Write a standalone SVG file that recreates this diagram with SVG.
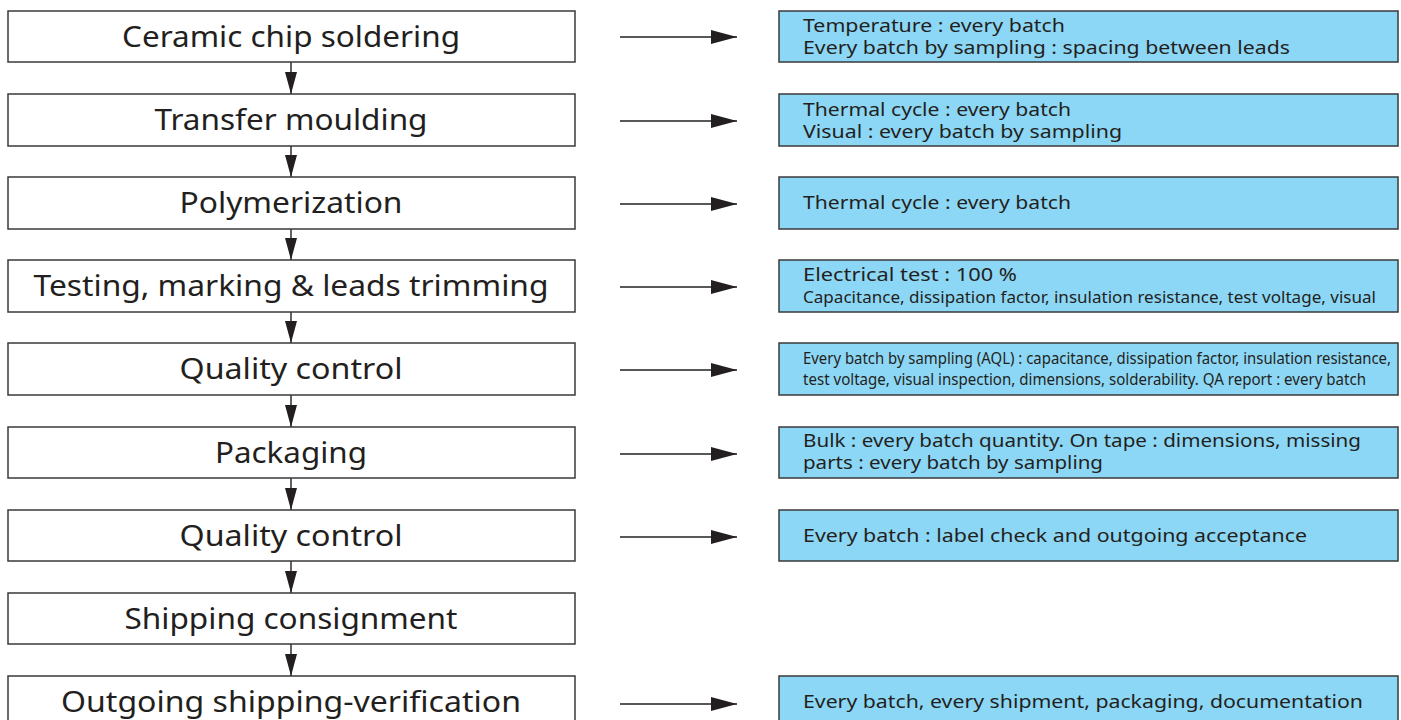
<svg xmlns="http://www.w3.org/2000/svg" width="1401" height="720" viewBox="0 0 1401 720">
<defs>
<style>
.step{fill:#fff;stroke:#3a3a3a;stroke-width:1.5}
.info{fill:#8dd7f6;stroke:#3a3a3a;stroke-width:1.5}
.lt{font-family:"Noto Sans","Open Sans",sans-serif;font-size:29px;fill:#231f20;text-anchor:middle}
.rt{font-family:"Noto Sans","Open Sans",sans-serif;font-size:18px;fill:#231f20}
.rs{font-family:"Noto Sans","Open Sans",sans-serif;font-size:17px;fill:#231f20}
.rc{font-family:"Noto Sans","Open Sans",sans-serif;font-size:14.5px;fill:#231f20}
.ln{stroke:#231f20;stroke-width:1.4;fill:none}
</style>
<marker id="ar" viewBox="0 0 26 14" refX="26" refY="7" markerWidth="26" markerHeight="14" markerUnits="userSpaceOnUse" orient="auto">
<path d="M0,0 L26,7 L0,14 z" fill="#231f20"/>
</marker>
<marker id="av" viewBox="0 0 22 12" refX="22" refY="6" markerWidth="22" markerHeight="12" markerUnits="userSpaceOnUse" orient="auto">
<path d="M0,0 L22,6 L0,12 z" fill="#231f20"/>
</marker>
</defs>
<rect width="1401" height="720" fill="#fff"/>

<g id="connectors">
<line class="ln" x1="291" y1="62" x2="291" y2="94" marker-end="url(#av)"/>
<line class="ln" x1="291" y1="146" x2="291" y2="177" marker-end="url(#av)"/>
<line class="ln" x1="291" y1="229" x2="291" y2="260" marker-end="url(#av)"/>
<line class="ln" x1="291" y1="312" x2="291" y2="343" marker-end="url(#av)"/>
<line class="ln" x1="291" y1="395" x2="291" y2="427" marker-end="url(#av)"/>
<line class="ln" x1="291" y1="478" x2="291" y2="510" marker-end="url(#av)"/>
<line class="ln" x1="291" y1="561" x2="291" y2="593" marker-end="url(#av)"/>
<line class="ln" x1="291" y1="644" x2="291" y2="676" marker-end="url(#av)"/>
<line class="ln" x1="620" y1="37" x2="737" y2="37" marker-end="url(#ar)"/>
<line class="ln" x1="620" y1="121" x2="737" y2="121" marker-end="url(#ar)"/>
<line class="ln" x1="620" y1="204" x2="737" y2="204" marker-end="url(#ar)"/>
<line class="ln" x1="620" y1="287" x2="737" y2="287" marker-end="url(#ar)"/>
<line class="ln" x1="620" y1="370" x2="737" y2="370" marker-end="url(#ar)"/>
<line class="ln" x1="620" y1="454" x2="737" y2="454" marker-end="url(#ar)"/>
<line class="ln" x1="620" y1="537" x2="737" y2="537" marker-end="url(#ar)"/>
<line class="ln" x1="620" y1="704" x2="737" y2="704" marker-end="url(#ar)"/>
</g>

<g id="step1"><rect class="step" x="8" y="11" width="567" height="51"/><text class="lt" x="291" y="47" textLength="338" lengthAdjust="spacingAndGlyphs">Ceramic chip soldering</text></g>
<g id="step2"><rect class="step" x="8" y="94" width="567" height="52"/><text class="lt" x="291" y="130" textLength="273" lengthAdjust="spacingAndGlyphs">Transfer moulding</text></g>
<g id="step3"><rect class="step" x="8" y="177" width="567" height="52"/><text class="lt" x="291" y="213" textLength="223" lengthAdjust="spacingAndGlyphs">Polymerization</text></g>
<g id="step4"><rect class="step" x="8" y="260" width="567" height="52"/><text class="lt" x="291" y="296" textLength="515" lengthAdjust="spacingAndGlyphs">Testing, marking &amp; leads trimming</text></g>
<g id="step5"><rect class="step" x="8" y="343" width="567" height="52"/><text class="lt" x="291" y="379" textLength="223" lengthAdjust="spacingAndGlyphs">Quality control</text></g>
<g id="step6"><rect class="step" x="8" y="427" width="567" height="51"/><text class="lt" x="291" y="463" textLength="152" lengthAdjust="spacingAndGlyphs">Packaging</text></g>
<g id="step7"><rect class="step" x="8" y="510" width="567" height="51"/><text class="lt" x="291" y="546" textLength="223" lengthAdjust="spacingAndGlyphs">Quality control</text></g>
<g id="step8"><rect class="step" x="8" y="593" width="567" height="51"/><text class="lt" x="291" y="629" textLength="333" lengthAdjust="spacingAndGlyphs">Shipping consignment</text></g>
<g id="step9"><rect class="step" x="8" y="676" width="567" height="60"/><text class="lt" x="291" y="712" textLength="460" lengthAdjust="spacingAndGlyphs">Outgoing shipping-verification</text></g>

<g id="info1"><rect class="info" x="779" y="11" width="619" height="51"/>
<text class="rt" x="803" y="32" textLength="262" lengthAdjust="spacingAndGlyphs">Temperature : every batch</text>
<text class="rt" x="803" y="54" textLength="487" lengthAdjust="spacingAndGlyphs">Every batch by sampling : spacing between leads</text></g>
<g id="info2"><rect class="info" x="779" y="94" width="619" height="52"/>
<text class="rt" x="803" y="116" textLength="268" lengthAdjust="spacingAndGlyphs">Thermal cycle : every batch</text>
<text class="rt" x="803" y="138" textLength="319" lengthAdjust="spacingAndGlyphs">Visual : every batch by sampling</text></g>
<g id="info3"><rect class="info" x="779" y="177" width="619" height="52"/>
<text class="rt" x="803" y="209" textLength="268" lengthAdjust="spacingAndGlyphs">Thermal cycle : every batch</text></g>
<g id="info4"><rect class="info" x="779" y="260" width="619" height="52"/>
<text class="rt" x="803" y="281" textLength="214" lengthAdjust="spacingAndGlyphs">Electrical test : 100 %</text>
<text class="rs" x="803" y="303" textLength="573" lengthAdjust="spacingAndGlyphs">Capacitance, dissipation factor, insulation resistance, test voltage, visual</text></g>
<g id="info5"><rect class="info" x="779" y="343" width="619" height="52"/>
<text class="rc" transform="translate(803,364) scale(1,1.18)" textLength="588" lengthAdjust="spacingAndGlyphs">Every batch by sampling (AQL) : capacitance, dissipation factor, insulation resistance,</text>
<text class="rc" transform="translate(803,385) scale(1,1.18)" textLength="563" lengthAdjust="spacingAndGlyphs">test voltage, visual inspection, dimensions, solderability. QA report : every batch</text></g>
<g id="info6"><rect class="info" x="779" y="427" width="619" height="51"/>
<text class="rt" x="803" y="447" textLength="558" lengthAdjust="spacingAndGlyphs">Bulk : every batch quantity. On tape : dimensions, missing</text>
<text class="rt" x="803" y="469" textLength="300" lengthAdjust="spacingAndGlyphs">parts : every batch by sampling</text></g>
<g id="info7"><rect class="info" x="779" y="510" width="619" height="51"/>
<text class="rt" x="803" y="542" textLength="504" lengthAdjust="spacingAndGlyphs">Every batch : label check and outgoing acceptance</text></g>
<g id="info9"><rect class="info" x="779" y="676" width="619" height="60"/>
<text class="rt" x="803" y="708" textLength="560" lengthAdjust="spacingAndGlyphs">Every batch, every shipment, packaging, documentation</text></g>
</svg>
